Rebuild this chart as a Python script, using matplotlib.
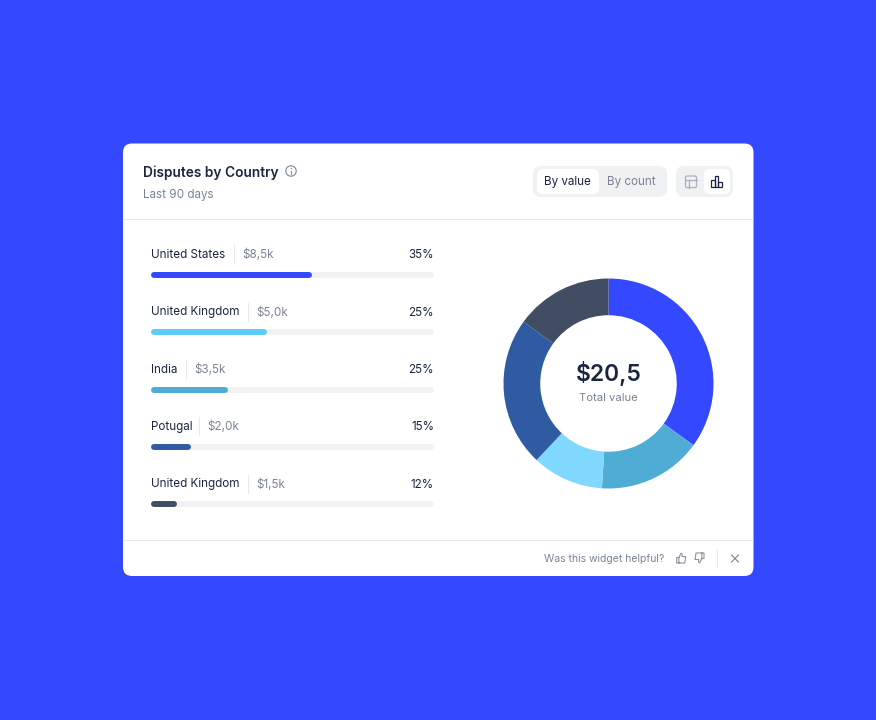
import matplotlib
matplotlib.use('Agg')
import matplotlib.pyplot as plt
from matplotlib.patches import FancyBboxPatch, Rectangle

plt.rcParams['font.family'] = ['Inter', 'DejaVu Sans']

countries = ['United States', 'United Kingdom', 'India', 'Potugal', 'United Kingdom']
amounts = ['$8,5k', '$5,0k', '$3,5k', '$2,0k', '$1,5k']
percents = ['35%', '25%', '25%', '15%', '12%']
bar_fill = [0.57, 0.41, 0.27, 0.14, 0.092]
bar_colors = ['#3448FF', '#5CCBFA', '#4FACD4', '#2F5BA3', '#414D63']

donut_values = [35, 16, 11, 23, 15]
donut_colors = ['#3448FF', '#4FACD4', '#80D8FF', '#2F5BA3', '#414D63']

BLUE = '#3448FF'
INK = '#1A2540'
MUTED = '#7A8395'
LINE = '#E7E9ED'
TRACK = '#F1F2F4'

W, H = 876, 720
fig = plt.figure(figsize=(W / 100, H / 100), dpi=100, facecolor=BLUE)


def px_axes(x0, y0, x1, y1):
    return fig.add_axes([x0 / W, 1 - y1 / H, (x1 - x0) / W, (y1 - y0) / H])


# page layer in pixel coordinates
bg = fig.add_axes([0, 0, 1, 1])
bg.set_xlim(0, W)
bg.set_ylim(H, 0)
bg.axis('off')


def rbox(x0, y0, x1, y1, r, fc, ec='none', lw=0, z=1):
    bg.add_patch(FancyBboxPatch((x0 + r, y0 + r), x1 - x0 - 2 * r, y1 - y0 - 2 * r,
                                boxstyle=f'round,pad={r},rounding_size={r}',
                                fc=fc, ec=ec, lw=lw, zorder=z))


rbox(123, 143.5, 753.5, 576, 9, 'white')
bg.plot([123.5, 753], [219, 219], color=LINE, lw=0.8, zorder=2, solid_capstyle='butt')
bg.plot([123.5, 753], [540, 540], color=LINE, lw=0.8, zorder=2, solid_capstyle='butt')

bg.text(143, 172.5, 'Disputes by Country', fontsize=9.9, fontweight='semibold',
        color=INK, va='center', zorder=3)
bg.text(143, 195, 'Last 90 days', fontsize=8.4, color=MUTED, va='center', zorder=3)

# info icon next to the title
bg.add_patch(plt.Circle((291, 171), 5.2, fc='none', ec='#8A92A3', lw=0.9, zorder=3))
bg.plot([291, 291], [170.5, 174], color='#8A92A3', lw=0.9, zorder=3)
bg.plot([291], [168.3], marker='o', ms=1.1, color='#8A92A3', mew=0, zorder=3)

# segmented toggles
rbox(533, 166, 667, 197, 8, '#F0F1F3')
rbox(537, 169, 599, 194, 6, 'white', z=2)
bg.text(567, 182, 'By value', fontsize=8.4, color=INK, ha='center', va='center', zorder=3)
bg.text(631.5, 182, 'By count', fontsize=8.4, color=MUTED, ha='center', va='center', zorder=3)

rbox(676, 166, 733, 197, 8, '#F0F1F3')
rbox(704, 169, 730, 194, 6, 'white', z=2)

# table icon
bg.add_patch(FancyBboxPatch((686.5, 177), 9, 9.5, boxstyle='round,pad=1,rounding_size=1.5',
                            fc='none', ec='#A9B0BE', lw=0.9, zorder=3))
bg.plot([685.5, 696.5], [180, 180], color='#A9B0BE', lw=0.9, zorder=3)
bg.plot([689, 689], [180, 187.5], color='#A9B0BE', lw=0.9, zorder=3)

# bar chart icon
for x0, top, wd in [(711, 180, 3.7), (714.7, 176, 3.7), (718.4, 181.5, 3.7)]:
    bg.add_patch(Rectangle((x0, top), wd, 187 - top, fc='none', ec=INK, lw=0.9, zorder=3))

# row labels above each bar
row_y = [255, 312.5, 370, 427, 484.5]
sep_x = [234, 247.5, 185.5, 199, 247.5]
for i in range(len(countries)):
    y = row_y[i]
    bg.text(151, y, countries[i], fontsize=8.4, color=INK, va='center', zorder=3)
    bg.plot([sep_x[i], sep_x[i]], [y - 10, y + 8], color=LINE, lw=0.8, zorder=3)
    bg.text(sep_x[i] + 8.5, y, amounts[i], fontsize=8.4, color=MUTED, va='center', zorder=3)
    bg.text(434, y, percents[i], fontsize=8.4, color=INK, ha='right', va='center', zorder=3)

# progress bars, one row per country
bar_ax = px_axes(151, 246, 434, 533)
bar_ax.set_xlim(0, 1)
bar_ax.set_ylim(4.5, -0.5)
bar_ax.axis('off')
for i, v in enumerate(bar_fill):
    bar_ax.hlines(i, 0.01, 0.99, color=TRACK, lw=4.3, capstyle='round')
    bar_ax.hlines(i, 0.01, v - 0.01, color=bar_colors[i], lw=4.3, capstyle='round')

# donut
pie_ax = px_axes(503.5, 278.5, 713.5, 488.5)
pie_ax.pie(donut_values, colors=donut_colors, startangle=90, counterclock=False, radius=1.0,
           wedgeprops={'width': 0.35, 'linewidth': 0})
pie_ax.set_xlim(-1, 1)
pie_ax.set_ylim(-1, 1)

bg.text(608.5, 373.5, '$20,5', fontsize=16.5, fontweight='semibold', color=INK,
        ha='center', va='center', zorder=5)
bg.text(608.5, 398, 'Total value', fontsize=8.1, color=MUTED, ha='center', va='center', zorder=5)

# feedback footer
bg.text(664, 558.5, 'Was this widget helpful?', fontsize=7.5, color=MUTED, ha='right', va='center', zorder=3)

# thumb icons outlined as polylines
thumb_x = [2.2, 4.3, 5.5, 5.3, 9, 8, 0, 0, 2.2, 2.2]
thumb_y = [4.5, 0.2, 0.8, 3.5, 3.5, 10, 10, 4.5, 4.5, 10]
bg.plot([676.7 + v for v in thumb_x], [553 + v for v in thumb_y], color='#8A92A3', lw=0.8, zorder=3)
bg.plot([704 - v for v in thumb_x], [563 - v for v in thumb_y], color='#8A92A3', lw=0.8, zorder=3)

bg.plot([716.5, 716.5], [550, 567], color=LINE, lw=0.8, zorder=3)
bg.plot([731.5, 738.5], [555, 562], color=MUTED, lw=0.8, zorder=3)
bg.plot([731.5, 738.5], [562, 555], color=MUTED, lw=0.8, zorder=3)

fig.savefig('out.png', dpi=100, facecolor=BLUE)
